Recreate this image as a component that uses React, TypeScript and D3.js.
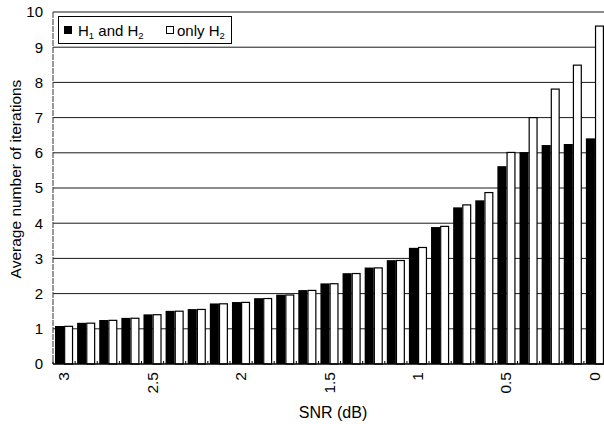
import React, { useEffect, useRef } from "react"
import * as d3 from "d3"

// SNR steps (dB), left to right
const snr = [
  "3", "2.875", "2.75", "2.625", "2.5", "2.375", "2.25", "2.125", "2",
  "1.875", "1.75", "1.625", "1.5", "1.375", "1.25", "1.125", "1",
  "0.875", "0.75", "0.625", "0.5", "0.375", "0.25", "0.125", "0",
]
// H1 and H2 (black bars)
const both = [
  1.08, 1.17, 1.25, 1.31, 1.41, 1.51, 1.56, 1.72, 1.76, 1.87, 1.97, 2.1,
  2.29, 2.58, 2.74, 2.95, 3.3, 3.89, 4.45, 4.65, 5.62, 6.02, 6.22, 6.25, 6.41,
]
// only H2 (white bars)
const onlyH2 = [
  1.07, 1.16, 1.24, 1.3, 1.4, 1.5, 1.55, 1.71, 1.75, 1.86, 1.96, 2.09,
  2.28, 2.57, 2.73, 2.94, 3.31, 3.91, 4.52, 4.87, 6.01, 7.0, 7.81, 8.49, 9.6,
]
const tickLabels = ["3", "2.5", "2", "1.5", "1", "0.5", "0"]
const yTicks = [0, 1, 2, 3, 4, 5, 6, 7, 8, 9, 10]

const FONT = "Liberation Sans, Arial, Helvetica, sans-serif"

export default function App() {
  const ref = useRef<SVGSVGElement>(null)

  useEffect(() => {
    const svg = d3.select(ref.current)
    svg.selectAll("*").remove()

    const left = 53, right = 606, top = 12, bottom = 364

    const x0 = d3.scaleBand<string>()
      .domain(snr)
      .range([left, right])
      .paddingInner(0.18)
      .paddingOuter(0.09)
    const x1 = d3.scaleBand<string>()
      .domain(["both", "only"])
      .range([0, x0.bandwidth()])
    const y = d3.scaleLinear().domain([0, 10]).range([bottom, top])

    // gridlines
    svg.append("g")
      .selectAll("line")
      .data(yTicks.filter(d => d > 0))
      .enter()
      .append("line")
      .attr("x1", left)
      .attr("x2", 604)
      .attr("y1", d => y(d))
      .attr("y2", d => y(d))
      .attr("stroke", "#1a1a1a")
      .attr("stroke-width", 1)

    // bars
    const groups = svg.append("g")
      .selectAll("g")
      .data(snr)
      .enter()
      .append("g")
      .attr("transform", d => `translate(${x0(d)},0)`)

    groups.append("rect")
      .attr("x", x1("both")!)
      .attr("y", (d, i) => y(both[i]))
      .attr("width", x1.bandwidth())
      .attr("height", (d, i) => y(0) - y(both[i]))
      .attr("fill", "#000")

    groups.append("rect")
      .attr("x", x1("only")! + 0.6)
      .attr("y", (d, i) => y(onlyH2[i]))
      .attr("width", x1.bandwidth() - 1.2)
      .attr("height", (d, i) => y(0) - y(onlyH2[i]))
      .attr("fill", "#fff")
      .attr("stroke", "#000")
      .attr("stroke-width", 1.2)

    // axes
    svg.append("line")
      .attr("x1", left).attr("x2", left)
      .attr("y1", top).attr("y2", bottom)
      .attr("stroke", "#333")
      .attr("stroke-dasharray", "6,1")
    svg.append("line")
      .attr("x1", left).attr("x2", 604)
      .attr("y1", bottom).attr("y2", bottom)
      .attr("stroke", "#000")
      .attr("stroke-width", 1.5)

    // small ticks between groups
    const step = x0.step()
    svg.append("g")
      .selectAll("line")
      .data(snr)
      .enter()
      .append("line")
      .attr("x1", d => x0(d)! - (step - x0.bandwidth()) / 2)
      .attr("x2", d => x0(d)! - (step - x0.bandwidth()) / 2)
      .attr("y1", bottom)
      .attr("y2", bottom - 3)
      .attr("stroke", "#000")

    // y tick labels
    svg.append("g")
      .selectAll("text")
      .data(yTicks)
      .enter()
      .append("text")
      .attr("x", 43)
      .attr("y", d => y(d))
      .attr("dy", "0.36em")
      .attr("text-anchor", "end")
      .attr("font-family", FONT)
      .attr("font-size", 15)
      .text(d => d)

    // x tick labels (rotated)
    svg.append("g")
      .selectAll("text")
      .data(tickLabels)
      .enter()
      .append("text")
      .attr("transform", d => {
        const cx = x0(d)! + x0.bandwidth() / 2
        return `translate(${cx + 5},372) rotate(-90)`
      })
      .attr("text-anchor", "end")
      .attr("font-family", FONT)
      .attr("font-size", 15.5)
      .text(d => d)

    // axis titles
    svg.append("text")
      .attr("x", 333)
      .attr("y", 418)
      .attr("text-anchor", "middle")
      .attr("font-family", FONT)
      .attr("font-size", 16)
      .text("SNR (dB)")
    svg.append("text")
      .attr("transform", `translate(21,179) rotate(-90)`)
      .attr("text-anchor", "middle")
      .attr("font-family", FONT)
      .attr("font-size", 15.5)
      .text("Average number of iterations")

    // legend
    const lg = svg.append("g")
    lg.append("rect")
      .attr("x", 58.5).attr("y", 16.5)
      .attr("width", 173).attr("height", 27)
      .attr("fill", "#fff")
      .attr("stroke", "#000")
    lg.append("rect")
      .attr("x", 64).attr("y", 26)
      .attr("width", 8).attr("height", 8)
      .attr("fill", "#000")
    lg.append("rect")
      .attr("x", 166.5).attr("y", 26.5)
      .attr("width", 7).attr("height", 7)
      .attr("fill", "#fff")
      .attr("stroke", "#000")
    const t1 = lg.append("text")
      .attr("x", 78).attr("y", 36)
      .attr("font-family", FONT)
      .attr("font-size", 15)
    t1.append("tspan").text("H")
    t1.append("tspan").attr("font-size", 9.5).attr("dy", 3).text("1")
    t1.append("tspan").attr("dy", -3).text(" and H")
    t1.append("tspan").attr("font-size", 9.5).attr("dy", 3).text("2")
    const t2 = lg.append("text")
      .attr("x", 177).attr("y", 36)
      .attr("font-family", FONT)
      .attr("font-size", 15)
    t2.append("tspan").text("only H")
    t2.append("tspan").attr("font-size", 9.5).attr("dy", 3).text("2")
  }, [])

  return (
    <svg
      ref={ref}
      width={604}
      height={424}
      style={{ position: "absolute", left: 0, top: 0, background: "#fff" }}
    />
  )
}
